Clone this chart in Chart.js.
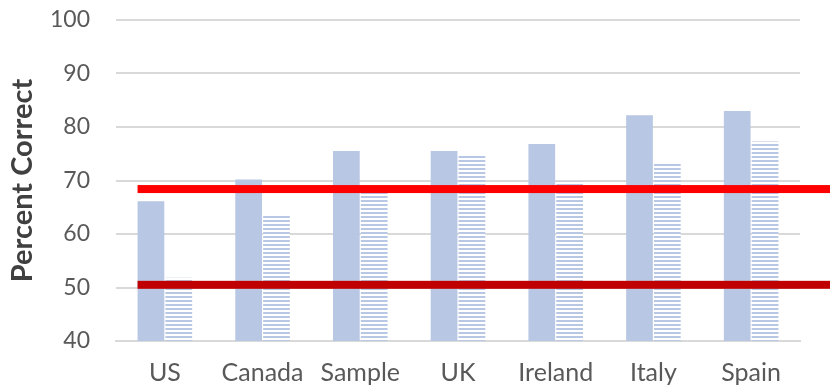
<!DOCTYPE html>
<html>
<head>
<meta charset="utf-8">
<script src="https://cdn.jsdelivr.net/npm/chart.js@4/dist/chart.umd.min.js"></script>
<style>
  html, body { margin: 0; padding: 0; background: #fff; }
  #wrap { width: 830px; height: 387px; }
</style>
</head>
<body>
<div id="wrap"><canvas id="scoreChart" width="830" height="387"></canvas></div>
<script>
const countries = ['US', 'Canada', 'Sample', 'UK', 'Ireland', 'Italy', 'Spain'];
const solidScores = [66.1, 70.2, 75.5, 75.5, 76.8, 82.2, 83.0];
const stripedScores = [51.8, 63.4, 68.0, 74.9, 69.8, 73.2, 77.3];
const refLines = [
  { value: 68.4, color: '#FF0000' },
  { value: 50.5, color: '#C00000' }
];
const yTicks = { min: 40, max: 100, step: 10 };

const barBlue = '#B8C7E3';

// horizontal stripe fill for the second series
const makeStripes = () => {
  const c = document.createElement('canvas');
  c.width = 4;
  c.height = 4;
  const g = c.getContext('2d');
  g.fillStyle = '#ffffff';
  g.fillRect(0, 0, 4, 4);
  g.fillStyle = barBlue;
  g.fillRect(0, 0, 4, 2);
  return g.createPattern(c, 'repeat');
};

// thick reference lines running from the first bar to the right edge
const refLinePlugin = {
  id: 'refLines',
  afterDatasetsDraw(chart) {
    const { ctx } = chart;
    const y = chart.scales.y;
    const firstBar = chart.getDatasetMeta(0).data[0];
    const startX = firstBar.x - firstBar.width / 2;
    ctx.save();
    refLines.forEach((line) => {
      const py = y.getPixelForValue(line.value);
      ctx.fillStyle = line.color;
      ctx.fillRect(startX, py - 4, chart.width - startX, 8);
    });
    ctx.restore();
  }
};

const ctx = document.getElementById('scoreChart');
new Chart(ctx, {
  type: 'bar',
  data: {
    labels: countries,
    datasets: [
      {
        label: 'Solid',
        data: solidScores,
        backgroundColor: barBlue,
        barPercentage: 0.96,
        categoryPercentage: 0.57
      },
      {
        label: 'Striped',
        data: stripedScores,
        backgroundColor: makeStripes(),
        barPercentage: 0.96,
        categoryPercentage: 0.57
      }
    ]
  },
  options: {
    responsive: false,
    animation: false,
    layout: { padding: { top: 20, right: 30, left: 0, bottom: 0 } },
    plugins: {
      legend: { display: false },
      tooltip: { enabled: false }
    },
    scales: {
      x: {
        grid: { display: false, drawTicks: false },
        border: { display: true, color: '#D9D9D9', width: 2 },
        afterFit: (scale) => { scale.height = 46; },
        ticks: {
          color: '#595959',
          font: { family: 'Lato', size: 25 },
          padding: 17
        }
      },
      y: {
        min: yTicks.min,
        max: yTicks.max,
        border: { display: false },
        grid: { color: '#D9D9D9', lineWidth: 2, drawTicks: false },
        afterFit: (scale) => {
          scale.width = 116;
          scale.paddingTop = 0;
          scale.paddingBottom = 0;
        },
        ticks: {
          stepSize: yTicks.step,
          color: '#595959',
          font: { family: 'Lato', size: 23 },
          padding: 26
        },
        title: {
          display: true,
          text: 'Percent Correct',
          color: '#404040',
          font: { family: 'Lato', size: 29, weight: 'bold' },
          padding: { top: 5, bottom: 0 }
        }
      }
    }
  },
  plugins: [refLinePlugin]
});
</script>
</body>
</html>
